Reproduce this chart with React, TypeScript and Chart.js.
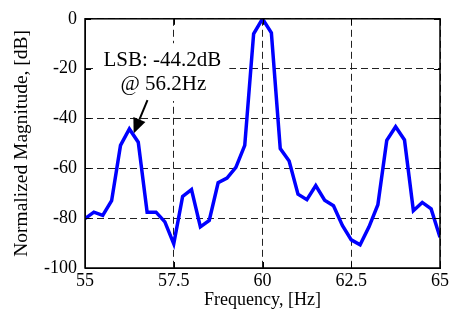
import React, { useEffect, useRef } from "react";
import { Chart, registerables } from "chart.js";

Chart.register(...registerables);

// Frequency axis (Hz), sampled every 0.25 Hz
const freqs: number[] = [
  55, 55.25, 55.5, 55.75, 56, 56.25, 56.5, 56.75, 57, 57.25, 57.5, 57.75, 58, 58.25,
  58.5, 58.75, 59, 59.25, 59.5, 59.75, 60, 60.25, 60.5, 60.75, 61, 61.25, 61.5, 61.75,
  62, 62.25, 62.5, 62.75, 63, 63.25, 63.5, 63.75, 64, 64.25, 64.5, 64.75, 65,
];
// Normalized magnitude (dB)
const magnitude: number[] = [
  -80.2, -77.6, -78.9, -73.0, -50.8, -44.2, -49.5, -77.6, -77.6, -81.5, -90.3, -71.3, -68.5, -83.5,
  -80.9, -65.8, -63.9, -59.6, -50.8, -6.0, 0, -5.6, -52.1, -57.1, -70.4, -72.6, -66.9, -72.8,
  -75.0, -82.9, -88.7, -90.7, -83.5, -74.6, -48.8, -43.3, -48.6, -77.0, -73.7, -76.3, -87.7,
];
const xTicks: number[] = [55, 57.5, 60, 62.5, 65];
const yTicks: number[] = [-100, -80, -60, -40, -20, 0];
const annotationLines: string[] = ["LSB: -44.2dB", "@ 56.2Hz"];

const FONT = "'Liberation Serif', 'Times New Roman', serif";

const annotationPlugin = {
  id: "annot",
  beforeDatasetsDraw(chart: any) {
    const { ctx, scales } = chart;
    const xs = scales.x;
    const ys = scales.y;
    ctx.save();
    ctx.font = `21px ${FONT}`;
    const tx = xs.getPixelForValue(57.18);
    const w = Math.max(...annotationLines.map((s) => ctx.measureText(s).width));
    const top = ys.getPixelForValue(-9.8);
    const bottom = ys.getPixelForValue(-33.0);
    ctx.fillStyle = "#fff";
    ctx.fillRect(tx - w / 2 - 8, top, w + 16, bottom - top);
    ctx.fillStyle = "#000";
    ctx.textAlign = "center";
    ctx.textBaseline = "alphabetic";
    ctx.fillText(annotationLines[0], tx, ys.getPixelForValue(-18.9));
    ctx.fillText(annotationLines[1], tx + 1, ys.getPixelForValue(-28.7));

    // arrow
    const x0 = xs.getPixelForValue(56.76);
    const y0 = ys.getPixelForValue(-32.6);
    const x1 = xs.getPixelForValue(56.37);
    const y1 = ys.getPixelForValue(-46.0);
    const ang = Math.atan2(y1 - y0, x1 - x0);
    const hl = 15;
    const hw = 6.5;
    const bx = x1 - hl * Math.cos(ang);
    const by = y1 - hl * Math.sin(ang);
    ctx.strokeStyle = "#000";
    ctx.lineWidth = 2;
    ctx.setLineDash([]);
    ctx.beginPath();
    ctx.moveTo(x0, y0);
    ctx.lineTo(bx, by);
    ctx.stroke();
    ctx.beginPath();
    ctx.moveTo(x1, y1);
    ctx.lineTo(bx + hw * Math.sin(ang), by - hw * Math.cos(ang));
    ctx.lineTo(bx - hw * Math.sin(ang), by + hw * Math.cos(ang));
    ctx.closePath();
    ctx.fill();
    ctx.restore();
  },
};

const framePlugin = {
  id: "frame",
  afterDraw(chart: any) {
    const { ctx, chartArea: a, scales } = chart;
    const xs = scales.x;
    const ys = scales.y;
    ctx.save();
    ctx.strokeStyle = "#000";
    ctx.lineWidth = 1;
    ctx.setLineDash([]);
    const tl = 6;
    ctx.beginPath();
    xTicks.forEach((v) => {
      const px = Math.round(xs.getPixelForValue(v)) + 0.5;
      ctx.moveTo(px, a.bottom);
      ctx.lineTo(px, a.bottom - tl);
      ctx.moveTo(px, a.top);
      ctx.lineTo(px, a.top + tl);
    });
    yTicks.forEach((v) => {
      const py = Math.round(ys.getPixelForValue(v)) + 0.5;
      ctx.moveTo(a.left, py);
      ctx.lineTo(a.left + tl, py);
      ctx.moveTo(a.right, py);
      ctx.lineTo(a.right - tl, py);
    });
    ctx.stroke();
    ctx.lineWidth = 1.5;
    ctx.strokeRect(a.left, a.top, a.right - a.left, a.bottom - a.top);
    ctx.restore();
  },
};

export default function App() {
  const ref = useRef<HTMLCanvasElement | null>(null);
  useEffect(() => {
    if (!ref.current) return;
    const chart = new Chart(ref.current, {
      type: "line",
      data: {
        datasets: [
          {
            data: freqs.map((f, i) => ({ x: f, y: magnitude[i] })),
            borderColor: "#0000FF",
            borderWidth: 3.5,
            pointRadius: 0,
            tension: 0,
            fill: false,
          },
        ],
      },
      options: {
        animation: false,
        responsive: false,
        devicePixelRatio: 1,
        layout: { padding: { left: 0, right: 10, top: 14, bottom: 0 } },
        plugins: { legend: { display: false }, tooltip: { enabled: false } },
        scales: {
          x: {
            type: "linear",
            min: 55,
            max: 65,
            afterBuildTicks: (s: any) => {
              s.ticks = xTicks.map((v) => ({ value: v }));
            },
            afterFit: (s: any) => {
              s.height = 52;
            },
            ticks: {
              color: "#000",
              font: { family: FONT, size: 18 },
              padding: 2,
              maxRotation: 0,
              autoSkip: false,
            },
            grid: {
              color: "#222",
              lineWidth: 1,
              drawTicks: false,
            },
            border: { display: true, color: "#000", dash: [7, 4] },
            title: {
              display: true,
              text: "Frequency, [Hz]",
              color: "#000",
              font: { family: FONT, size: 18 },
              padding: { top: 0, bottom: 9 },
            },
          },
          y: {
            min: -100,
            max: 0,
            afterBuildTicks: (s: any) => {
              s.ticks = yTicks.map((v) => ({ value: v }));
            },
            afterFit: (s: any) => {
              s.width = 85;
            },
            ticks: {
              color: "#000",
              font: { family: FONT, size: 18 },
              padding: 8,
              autoSkip: false,
            },
            grid: {
              color: "#222",
              lineWidth: 1,
              drawTicks: false,
            },
            border: { display: true, color: "#000", dash: [7, 4] },
            title: {
              display: true,
              text: "Normalized Magnitude, [dB]",
              color: "#000",
              font: { family: FONT, size: 19.5 },
              padding: { top: 10, bottom: 0 },
            },
          },
        },
      } as any,
      plugins: [annotationPlugin, framePlugin],
    });
    return () => chart.destroy();
  }, []);
  return (
    <div style={{ position: "absolute", left: 0, top: 0, width: 451, height: 320, background: "#fff" }}>
      <canvas ref={ref} width={451} height={320} style={{ display: "block" }} />
    </div>
  );
}
